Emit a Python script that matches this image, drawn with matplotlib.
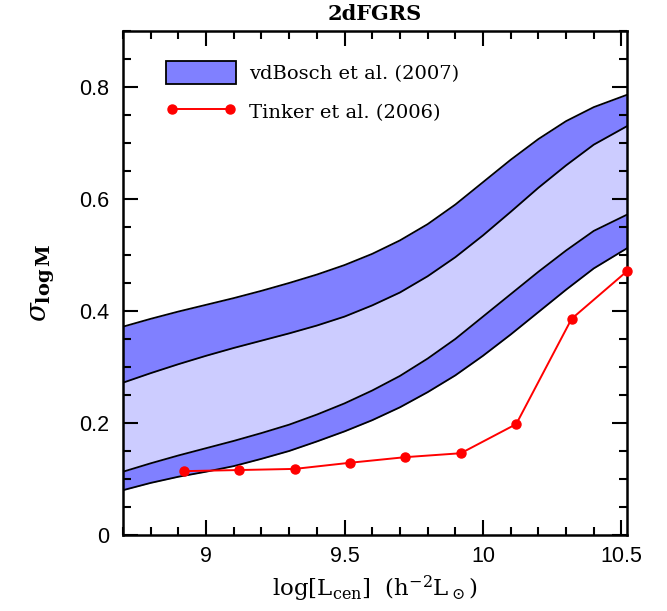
#!/usr/bin/env python3
"""sigma_logM vs central luminosity, 2dFGRS."""
import matplotlib
matplotlib.use('Agg')
import matplotlib.pyplot as plt
from matplotlib.patches import Patch
from matplotlib.lines import Line2D
from matplotlib.ticker import MultipleLocator

plt.rcParams['mathtext.fontset'] = 'dejavuserif'

# vdBosch et al. (2007) band edges
band_x = [8.7, 8.8, 8.9, 9.0, 9.1, 9.2, 9.3, 9.4, 9.5, 9.6,
          9.7, 9.8, 9.9, 10.0, 10.1, 10.2, 10.3, 10.4, 10.52]
outer_hi = [0.372, 0.386, 0.399, 0.411, 0.423, 0.436, 0.450, 0.465, 0.482, 0.502,
            0.526, 0.555, 0.590, 0.630, 0.670, 0.707, 0.739, 0.764, 0.786]
inner_hi = [0.272, 0.289, 0.305, 0.320, 0.334, 0.347, 0.360, 0.374, 0.390, 0.410,
            0.433, 0.462, 0.496, 0.535, 0.577, 0.620, 0.660, 0.697, 0.730]
inner_lo = [0.113, 0.128, 0.142, 0.155, 0.168, 0.182, 0.197, 0.215, 0.235, 0.258,
            0.284, 0.315, 0.350, 0.390, 0.430, 0.470, 0.508, 0.543, 0.572]
outer_lo = [0.080, 0.093, 0.104, 0.113, 0.123, 0.136, 0.150, 0.167, 0.185, 0.205,
            0.228, 0.255, 0.285, 0.320, 0.358, 0.398, 0.438, 0.476, 0.512]

# Tinker et al. (2006)
tinker_x = [8.92, 9.12, 9.32, 9.52, 9.72, 9.92, 10.12, 10.32, 10.52]
tinker_y = [0.114, 0.116, 0.118, 0.129, 0.139, 0.146, 0.198, 0.386, 0.471]

dark = '#8080ff'
light = '#ccccff'

fig = plt.figure(figsize=(6.67, 6.11), dpi=100)
ax = fig.add_axes([0.1844, 0.1244, 0.7556, 0.8249])

ax.fill_between(band_x, outer_lo, outer_hi, color=dark, lw=0)
ax.fill_between(band_x, inner_lo, inner_hi, color=light, lw=0)
for edge in (outer_hi, inner_hi, inner_lo, outer_lo):
    ax.plot(band_x, edge, color='k', lw=1.3)

ax.plot(tinker_x, tinker_y, '-o', color='#ff0000', lw=1.4, ms=6.5, clip_on=False, zorder=5)

ax.set_xlim(8.7, 10.52)
ax.set_ylim(0, 0.9)
ax.xaxis.set_minor_locator(MultipleLocator(0.1))
ax.yaxis.set_minor_locator(MultipleLocator(0.05))
ax.set_xticks([9, 9.5, 10, 10.5])
ax.set_xticklabels(['9', '9.5', '10', '10.5'])
ax.set_yticks([0, 0.2, 0.4, 0.6, 0.8])
ax.set_yticklabels(['0', '0.2', '0.4', '0.6', '0.8'])
ax.tick_params(which='both', direction='in', top=True, right=True, width=1.5)
ax.tick_params(which='major', length=11, labelsize=15.5)
ax.tick_params(axis='x', which='major', pad=8)
ax.tick_params(axis='y', which='major', pad=10)
ax.tick_params(which='minor', length=5.5)
for lab in ax.get_xticklabels() + ax.get_yticklabels():
    lab.set_family('Liberation Sans')
for sp in ax.spines.values():
    sp.set_linewidth(1.8)

ax.set_title('2dFGRS', family='DejaVu Serif', fontsize=15, fontweight='semibold', pad=8)
ax.set_xlabel(r'log[L$_{\rm cen}$]  (h$^{-2}$L$_\odot$)', family='DejaVu Serif',
              fontsize=16.5, labelpad=5)
ax.set_ylabel(r'$\sigma_{\mathbf{log\,M}}$', fontsize=20, labelpad=16)

handles = [Patch(facecolor=dark, edgecolor='k', lw=1.3),
           Line2D([], [], color='#ff0000', lw=1.4, marker='o', ms=6.5)]
ax.legend(handles, ['vdBosch et al. (2007)', 'Tinker et al. (2006)'],
          loc='upper left', bbox_to_anchor=(0.05, 0.975), frameon=False,
          prop={'family': 'DejaVu Serif', 'size': 14}, numpoints=2,
          handlelength=3.6, handleheight=1.45, handletextpad=0.7,
          labelspacing=0.8)

fig.savefig('out.png', dpi=100)
